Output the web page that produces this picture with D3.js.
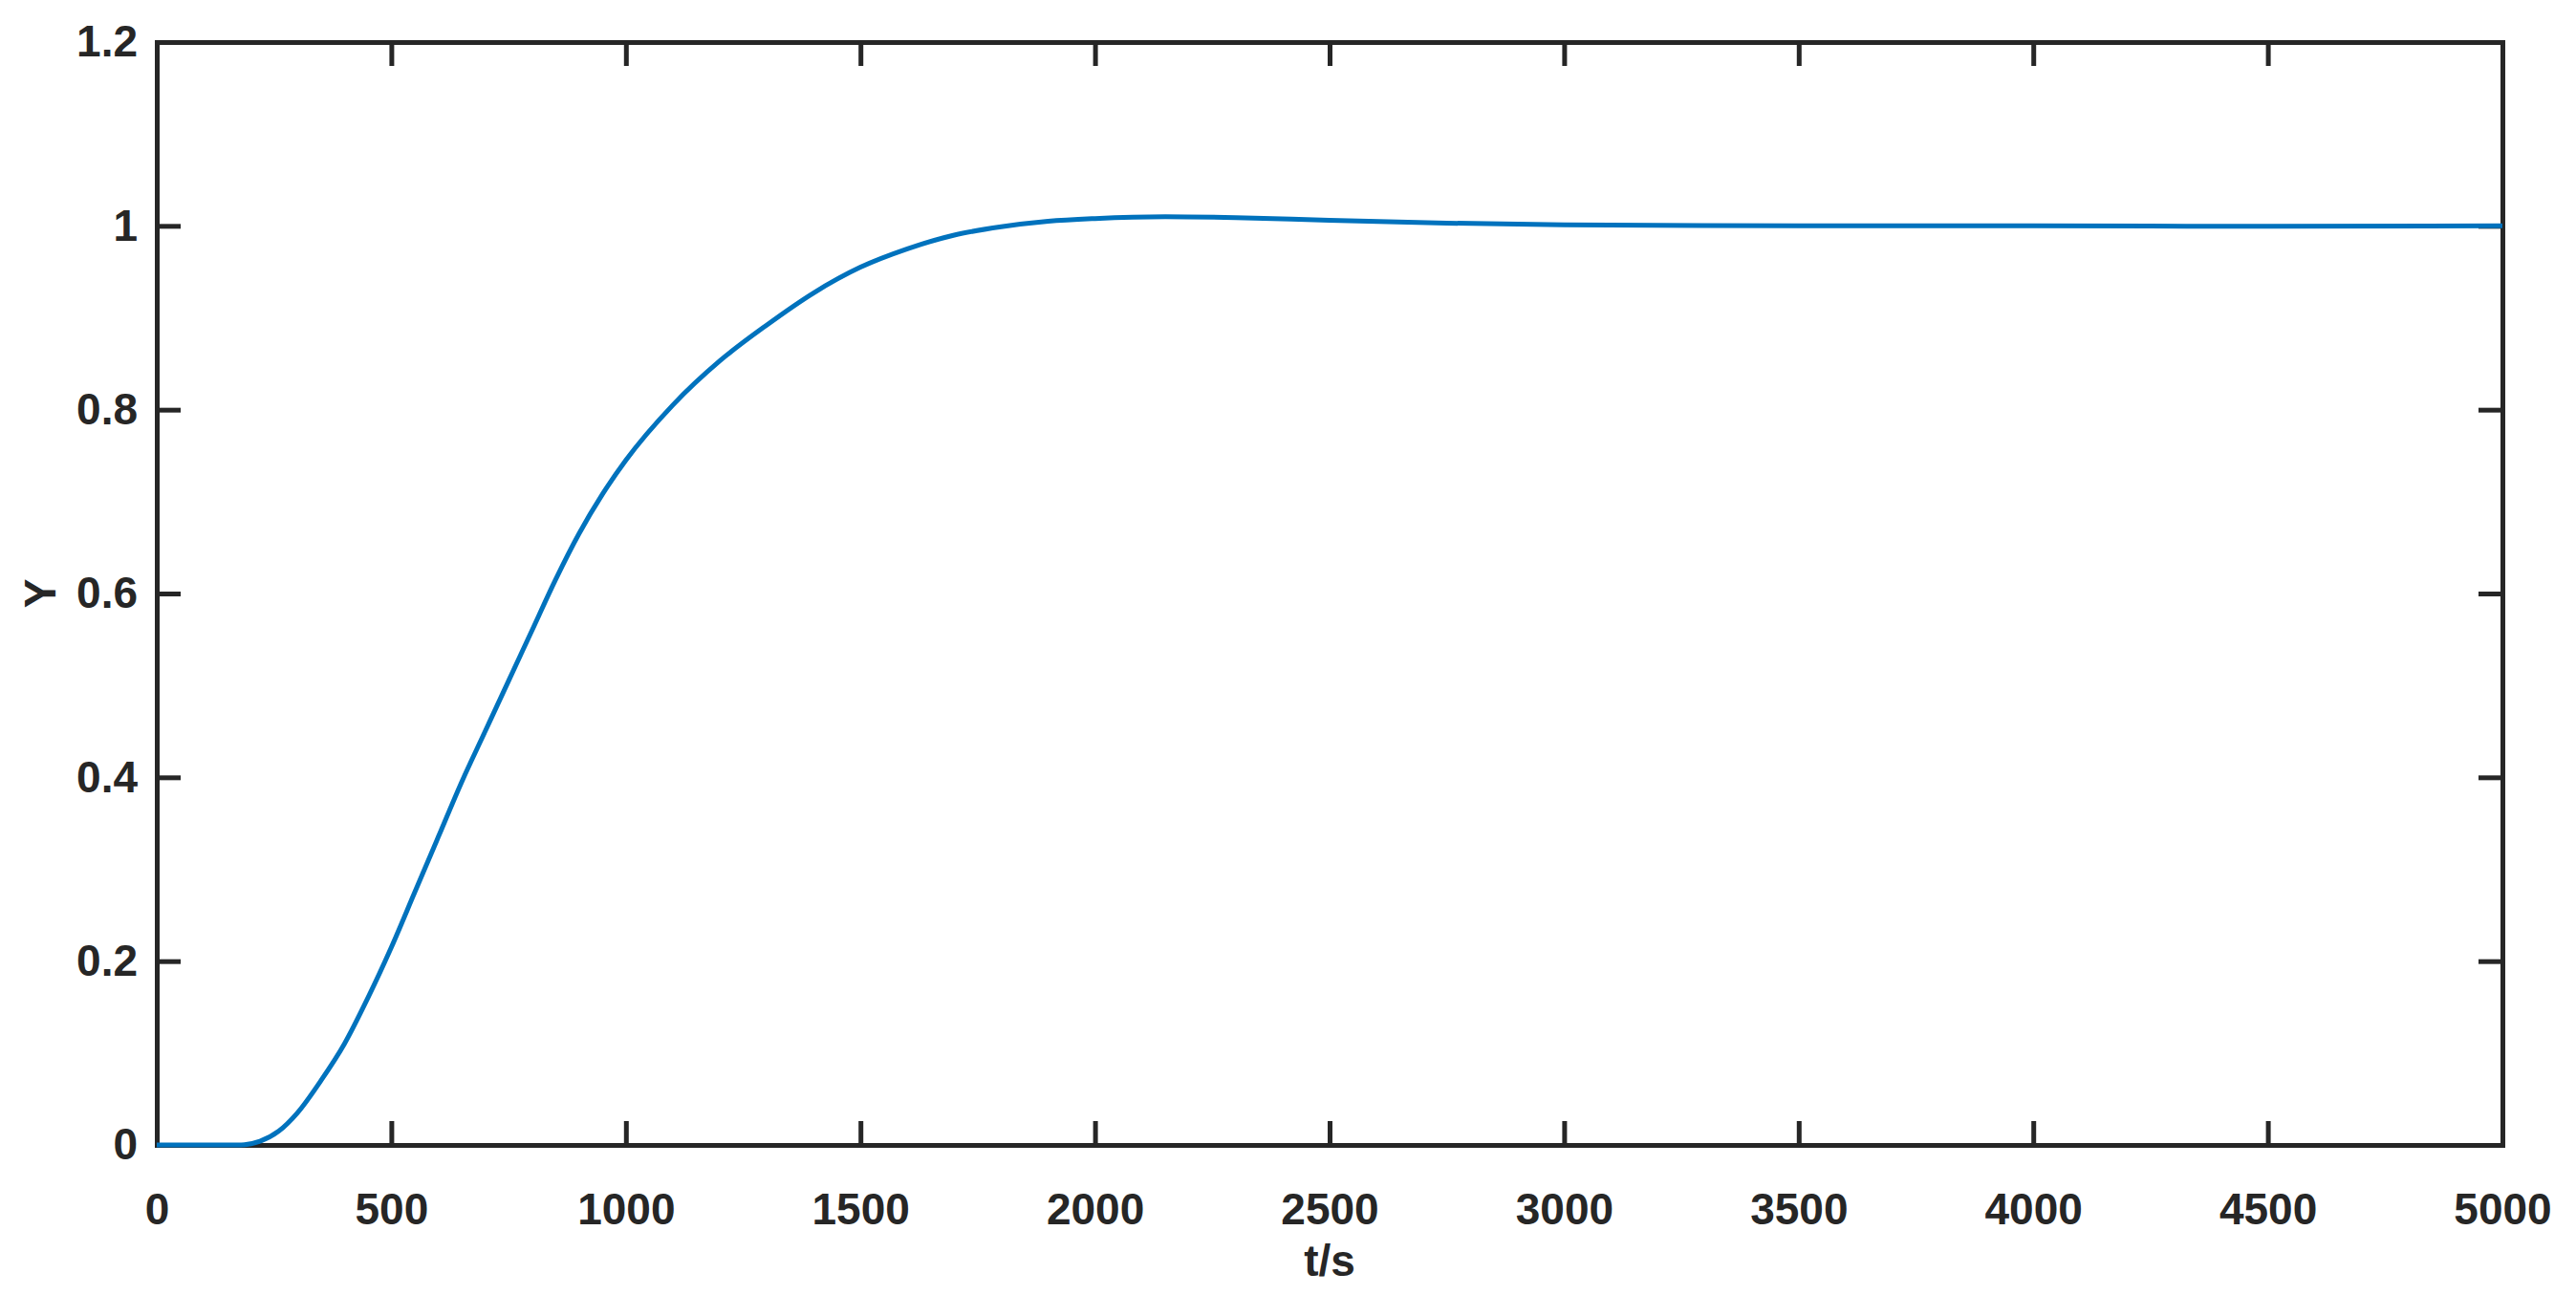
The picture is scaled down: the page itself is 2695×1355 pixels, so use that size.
<!DOCTYPE html>
<html>
<head>
<meta charset="utf-8">
<script src="https://cdn.jsdelivr.net/npm/d3@7"></script>
<style>
  body { margin: 0; background: #fff; }
  text { font-family: Arial, "Liberation Sans", sans-serif; font-weight: bold; fill: #262626; }
</style>
</head>
<body>
<div id="container"></div>
<script>
/* DATA */
const tValues = [0, 100, 180, 220, 260, 300, 350, 400, 450, 500, 550, 600, 650, 700, 750, 800, 850, 900, 950, 1000,
  1100, 1200, 1300, 1400, 1500, 1600, 1700, 1800, 1900, 2000, 2150, 2300, 2500, 2750, 3000, 3500, 4000, 4500, 5000];
const yValues = [0, 0, 0, 0.004, 0.015, 0.035, 0.07, 0.11, 0.16, 0.215, 0.275, 0.335, 0.395, 0.45, 0.505, 0.56, 0.615, 0.665, 0.708, 0.745,
  0.805, 0.853, 0.892, 0.927, 0.955, 0.975, 0.99, 0.999, 1.005, 1.008, 1.01, 1.009, 1.006, 1.003, 1.001, 1.0, 1.0, 0.9995, 1.0];
const xTicks = [0, 500, 1000, 1500, 2000, 2500, 3000, 3500, 4000, 4500, 5000];
const yTicks = [0, 0.2, 0.4, 0.6, 0.8, 1, 1.2];

const width = 2695, height = 1355,
  margin = { top: 44, bottom: 157, left: 164, right: 77 };

const data = tValues.map((t, i) => ({ t: t, y: yValues[i] }));

// SCALES
const xScale = d3.scaleLinear().domain([0, 5000]).range([margin.left, width - margin.right]);
const yScale = d3.scaleLinear().domain([0, 1.2]).range([height - margin.bottom, margin.top]);

const svg = d3.select("#container").append("svg")
  .attr("width", width).attr("height", height);

const tickLen = 25, axisColor = "#262626", fs = 46;

// AXES (ticks inside, like MATLAB)
const xAxis = svg.append("g")
  .attr("transform", `translate(0,${height - margin.bottom})`)
  .call(d3.axisBottom(xScale).tickValues(xTicks).tickSize(-tickLen).tickPadding(50).tickFormat(d3.format("d")));
const xAxisTop = svg.append("g")
  .attr("transform", `translate(0,${margin.top})`)
  .call(d3.axisTop(xScale).tickValues(xTicks).tickSize(-tickLen).tickFormat(""));
const yAxis = svg.append("g")
  .attr("transform", `translate(${margin.left},0)`)
  .call(d3.axisLeft(yScale).tickValues(yTicks).tickSize(-tickLen).tickPadding(20).tickFormat(d => d));
const yAxisRight = svg.append("g")
  .attr("transform", `translate(${width - margin.right},0)`)
  .call(d3.axisRight(yScale).tickValues(yTicks).tickSize(-tickLen).tickFormat(""));

[xAxis, xAxisTop, yAxis, yAxisRight].forEach(g => {
  g.select(".domain").attr("stroke", axisColor).attr("stroke-width", 5);
  g.selectAll(".tick line").attr("stroke", axisColor).attr("stroke-width", 5);
  g.selectAll(".tick text").attr("font-size", fs).attr("font-family", "Arial, 'Liberation Sans', sans-serif")
    .attr("font-weight", "bold").attr("fill", axisColor);
});

// LABELS
svg.append("text")
  .attr("x", (margin.left + width - margin.right) / 2)
  .attr("y", height - 20)
  .attr("text-anchor", "middle").attr("font-size", fs)
  .text("t/s");
svg.append("text")
  .attr("transform", `translate(58,${(margin.top + height - margin.bottom) / 2}) rotate(-90)`)
  .attr("text-anchor", "middle").attr("font-size", fs)
  .text("Y");

// LINE
const line = d3.line().x(d => xScale(d.t)).y(d => yScale(d.y)).curve(d3.curveMonotoneX);
svg.append("path").datum(data)
  .attr("d", line)
  .attr("fill", "none").attr("stroke", "#0072BD").attr("stroke-width", 5);
</script>
</body>
</html>
